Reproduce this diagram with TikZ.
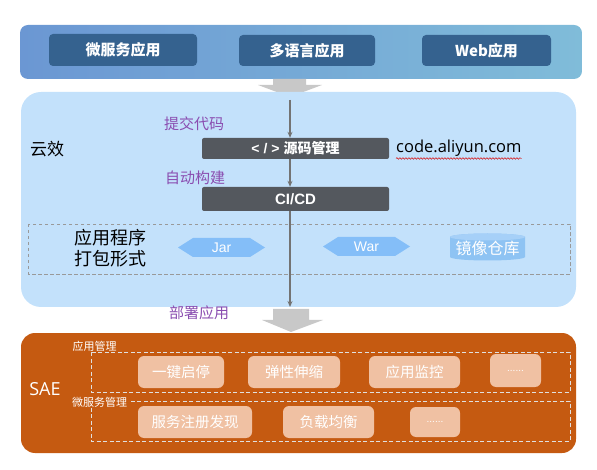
\documentclass[tikz,border=0pt]{standalone}
\usepackage{fontspec}
\setmainfont{Noto Sans CJK SC}
\newfontfamily\latinfont{Open Sans}
\newfontfamily\helvfont{Liberation Sans}
\usetikzlibrary{arrows.meta,decorations.pathmorphing}
\definecolor{topL}{HTML}{6B97D3}
\definecolor{topR}{HTML}{80BCD9}
\definecolor{bluebox}{HTML}{35628F}
\definecolor{panel}{HTML}{C3E1FB}
\definecolor{darkbox}{HTML}{54585E}
\definecolor{purp}{HTML}{8A4DB0}
\definecolor{hexc}{HTML}{84BEF8}
\definecolor{cylc}{HTML}{8EC3F3}
\definecolor{cyltop}{HTML}{A6D0F8}
\definecolor{orng}{HTML}{C55A11}
\definecolor{lorng}{HTML}{F0C1A3}
\definecolor{garrow}{HTML}{C8C8C8}
\definecolor{vline}{HTML}{737373}
\begin{document}
\begin{tikzpicture}[x=1pt,y=-1pt,
  bluebx/.style={fill=bluebox,rounded corners=4pt,text=white,font=\fontsize{15}{15}\selectfont\bfseries,inner sep=0pt},
  darkbx/.style={fill=darkbox,rounded corners=2pt,text=white,font=\fontsize{14}{14}\selectfont\bfseries,inner sep=0pt,minimum width=187pt},
  purptxt/.style={text=purp,font=\fontsize{15}{15}\selectfont,inner sep=0pt},
  obox/.style={fill=lorng,rounded corners=6pt,text=white,font=\fontsize{14.5}{14.5}\selectfont,inner sep=0pt},
  olabel/.style={fill=orng,text=white,font=\fontsize{11}{11}\selectfont,inner sep=0.5pt},
  odash/.style={draw=white!88!black,dashed,line width=0.9pt,dash pattern=on 4pt off 2.5pt},
  flow/.style={draw=vline,line width=1.2pt,-{Stealth[length=6pt,width=5pt]}},
  garr/.style={fill=garrow}
]
\useasboundingbox (0,0) rectangle (597,470);
% top band
\shade[left color=topL,right color=topR,rounded corners=8pt] (20,25) rectangle (582,79);
\node[bluebx,minimum width=148pt,minimum height=32pt] (ms) at (123,50) {微服务应用};
\node[bluebx,minimum width=136pt,minimum height=31pt] (ml) at (307,50.5) {多语言应用};
\node[bluebx,minimum width=129pt,minimum height=31pt] (web) at (486.5,50.5) {Web应用};
% arrow 1
\fill[garr] (273,79) -- (306,79) -- (306,85) -- (322,85) -- (290,97) -- (258,85) -- (273,85) -- cycle;
% light panel
\fill[panel,rounded corners=20pt] (21,92) rectangle (576,307);
\node[font=\fontsize{17}{17}\selectfont,inner sep=0pt] (yx) at (47,149) {云效};
\node[darkbx,minimum height=21pt] (src) at (295.5,148.5) {{\helvfont\bfseries <\hspace{4pt}/\hspace{4pt}>}\hspace{4pt}源码管理};
\node[darkbx,minimum height=24pt,font=\helvfont\fontsize{15}{15}\selectfont\bfseries] (cicd) at (295.5,199) {CI/CD};
\node[font=\latinfont\fontsize{16.5}{16.5}\selectfont,inner sep=0pt,anchor=west] (url) at (396,148) {code.aliyun.com};
\draw[red!85!black,line width=0.5pt,decorate,decoration={snake,amplitude=0.8pt,segment length=3pt}] ([yshift=-2pt]url.south west) -- ([yshift=-2pt]url.south east);
\node[purptxt] (l1) at (194,124) {提交代码};
\node[purptxt] (l2) at (195,178) {自动构建};
\coordinate (vtop) at (290,100);
\coordinate (vbot) at (290,307);
\draw[flow] (vtop) -- (vtop |- src.north);
\draw[flow] (vtop |- src.south) -- (vtop |- cicd.north);
% dashed box
\draw[draw=black!40,dashed,line width=0.7pt,dash pattern=on 3.5pt off 2.5pt] (28,224) rectangle (570,274);
\node[font=\fontsize{18}{21}\selectfont,inner sep=0pt,align=left] (pk) at (110,248) {应用程序\\打包形式};
\fill[hexc] (178,247.5) -- (193,238) -- (250,238) -- (265,247.5) -- (250,257) -- (193,257) -- cycle;
\node[text=white,font=\helvfont\fontsize{14}{14}\selectfont,inner sep=0pt] (jar) at (221.5,247.5) {Jar};
\fill[hexc] (323,246.5) -- (338,237) -- (395,237) -- (410,246.5) -- (395,256) -- (338,256) -- cycle;
\node[text=white,font=\helvfont\fontsize{14}{14}\selectfont,inner sep=0pt] (war) at (366.5,246.5) {War};
\fill[cylc] (450,237) -- (450,257) arc[start angle=180,end angle=0,x radius=37.5,y radius=3.5] -- (525,237) arc[start angle=0,end angle=-180,x radius=37.5,y radius=3.5] -- cycle;
\fill[cyltop] (487.5,237) ellipse[x radius=37.5,y radius=3.5];
\node[text=white,font=\fontsize{16}{16}\selectfont,inner sep=0pt] (img) at (487.5,248.5) {镜像仓库};
\draw[flow] (vtop |- cicd.south) -- (vbot);
% deploy
\node[purptxt] (l3) at (199,313) {部署应用};
\fill[garr] (273,309) -- (309,309) -- (309,320) -- (323,320) -- (291,332) -- (262,320) -- (273,320) -- cycle;
% SAE panel
\fill[orng,rounded corners=14pt] (21,333) rectangle (576,453);
\node[text=white,font=\latinfont\fontsize{18}{18}\selectfont,inner sep=0pt] (sae) at (45,389) {SAE};
\draw[odash] (91,352) rectangle (570,392);
\draw[odash] (91,401) rectangle (570,441);
\node[olabel] (am) at (94.5,346) {应用管理};
\node[olabel] (mm) at (99.5,402) {微服务管理};
\node[obox,minimum width=86pt,minimum height=32pt] (b1) at (181,372) {一键启停};
\node[obox,minimum width=92pt,minimum height=32pt] (b2) at (294,372) {弹性伸缩};
\node[obox,minimum width=91pt,minimum height=32pt] (b3) at (414.5,372) {应用监控};
\node[obox,minimum width=51pt,minimum height=33pt,font=\helvfont\fontsize{10}{10}\selectfont] (b4) at (515.5,370.5) {......};
\node[obox,minimum width=114pt,minimum height=32pt] (c1) at (195,422) {服务注册发现};
\node[obox,minimum width=91pt,minimum height=32pt] (c2) at (328.5,422) {负载均衡};
\node[obox,minimum width=50pt,minimum height=30pt,font=\helvfont\fontsize{10}{10}\selectfont] (c3) at (435,422) {......};
\end{tikzpicture}
\end{document}
